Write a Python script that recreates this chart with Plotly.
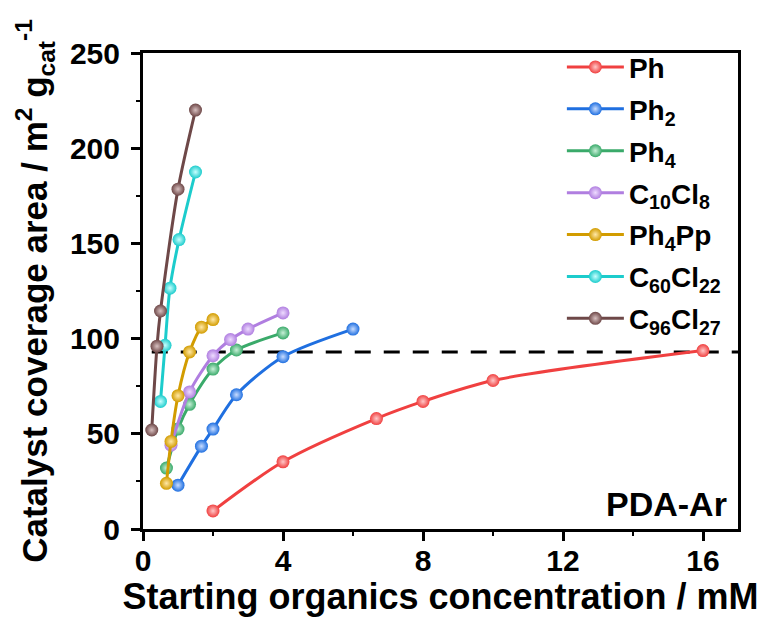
import plotly.graph_objects as go

# ---- data ----
ph_x = [2, 4, 6.67, 8, 10, 16]
ph_y = [9.5, 35.3, 58, 67, 78, 93.7]

ph2_x = [1, 1.67, 2, 2.67, 4, 6]
ph2_y = [23, 43.5, 52.5, 70.5, 90.5, 105]

ph4_x = [0.67, 1, 1.33, 2, 2.67, 4]
ph4_y = [32, 52.5, 65.5, 84, 94, 103]

c10_x = [0.8, 1.33, 2, 2.5, 3, 4]
c10_y = [44, 72, 91, 99.5, 105, 113.5]

ph4pp_x = [0.67, 0.8, 1, 1.33, 1.67, 2]
ph4pp_y = [24, 46, 70, 93, 106, 110]

c60_x = [0.5, 0.63, 0.77, 1.03, 1.5]
c60_y = [67, 96.5, 126.5, 152, 187.5]

c96_x = [0.25, 0.4, 0.5, 1, 1.5]
c96_y = [52, 96, 114.5, 178.5, 220]

ref_x = [0.25, 17]
ref_level = 93

series_names = ["Ph", "Ph<sub>2</sub>", "Ph<sub>4</sub>", "C<sub>10</sub>Cl<sub>8</sub>",
                "Ph<sub>4</sub>Pp", "C<sub>60</sub>Cl<sub>22</sub>", "C<sub>96</sub>Cl<sub>27</sub>"]
series_x = [ph_x, ph2_x, ph4_x, c10_x, ph4pp_x, c60_x, c96_x]
series_y = [ph_y, ph2_y, ph4_y, c10_y, ph4pp_y, c60_y, c96_y]
colors = ["#F04040", "#1F6FE0", "#3AAA6A", "#B07EE0", "#D29C00", "#1CCCCC", "#6E4848"]
highlights = ["#FFC8C8", "#C8DCFF", "#C8F0D8", "#EEDCFF", "#FFE8A8", "#C8FFFF", "#D8C0C0"]

FONT = "Liberation Sans, Arial, sans-serif"

fig = go.Figure()

fig.add_trace(go.Scatter(
    x=ref_x, y=[ref_level] * len(ref_x), mode="lines",
    line=dict(color="black", width=3, dash="16px,13px"),
    showlegend=False, hoverinfo="skip"))

for i, (name, xs, ys, c, h) in enumerate(zip(series_names, series_x, series_y, colors, highlights)):
    fig.add_trace(go.Scatter(
        x=xs, y=ys, name=name, mode="lines+markers", legendgroup=f"g{i}",
        line=dict(color=c, width=3, shape="spline", smoothing=0.8),
        marker=dict(size=13, color=c, gradient=dict(type="radial", color=h),
                    line=dict(width=0)),
    ))

fig.add_annotation(
    x=1, y=0, xref="paper", yref="paper", xanchor="right", yanchor="bottom",
    xshift=-9, yshift=4, showarrow=False,
    text="PDA-Ar", font=dict(family=FONT, size=34, color="black", weight="bold"))

axis_common = dict(
    showline=True, linecolor="black", linewidth=3, mirror=True,
    ticks="outside", ticklen=9, tickwidth=2.5, tickcolor="black",
    showgrid=False, zeroline=False,
    tickfont=dict(family=FONT, size=30, color="black", weight="bold"),
)

fig.update_xaxes(
    range=[0, 17], tickvals=[0, 4, 8, 12, 16], ticklabelstandoff=-6,
    minor=dict(ticks="outside", ticklen=4, tickwidth=2, tickcolor="black", dtick=2, tick0=0),
    title=dict(text="Starting organics concentration / mM",
               font=dict(family=FONT, size=36, color="black", weight="bold"), standoff=3),
    **axis_common)
fig.update_yaxes(
    range=[0, 250], tickvals=[0, 50, 100, 150, 200, 250], ticklabelstandoff=5,
    minor=dict(ticks="outside", ticklen=4, tickwidth=2, tickcolor="black", dtick=25, tick0=0),
    title=dict(text="Catalyst coverage area / m<sup>2</sup> g<sub>cat</sub><sup>-1</sup>",
               font=dict(family=FONT, size=35, color="black", weight="bold"), standoff=12),
    **axis_common)

fig.update_layout(
    width=760, height=617,
    margin=dict(l=143, r=22, t=53, b=88),
    paper_bgcolor="white", plot_bgcolor="white",
    legend=dict(x=0.704, y=1.0226, xanchor="left", yanchor="top",
                bgcolor="rgba(0,0,0,0)", borderwidth=0,
                font=dict(family=FONT, size=28, color="black", weight="bold"),
                tracegroupgap=2.5, itemwidth=57),
    showlegend=True,
)

fig.write_html("out.html")
